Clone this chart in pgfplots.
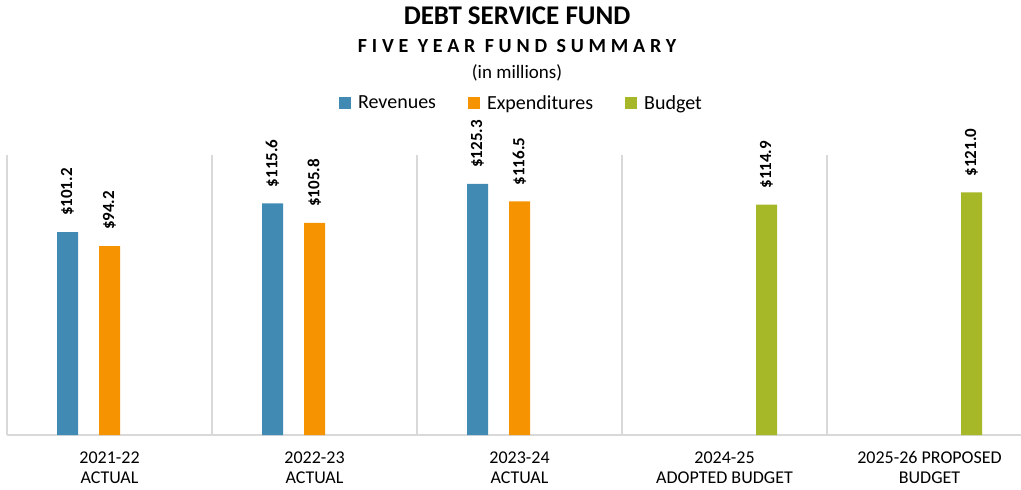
\documentclass[border=0pt]{standalone}
\usepackage{pgfplots}
\pgfplotsset{compat=1.18}
\usepackage{fontspec}
\setmainfont{Carlito}
\definecolor{rev}{HTML}{418AB3}
\definecolor{expc}{HTML}{F59300}
\definecolor{bud}{HTML}{A6B727}
\definecolor{sep}{HTML}{D9D9D9}
\begin{document}
\begin{tikzpicture}
\begin{axis}[
  name=ax,
  scale only axis,
  width=1014pt, height=280pt,
  xmin=-0.5, xmax=4.4463,
  ymin=0, ymax=139.7,
  axis x line*=bottom,
  axis y line=none,
  x axis line style={-, draw=sep, line width=1.5pt},
  xtick={0,1,2,3,4},
  xticklabels={{2021-22\\ACTUAL},{2022-23\\ACTUAL},{2023-24\\ACTUAL},{2024-25\\ADOPTED BUDGET},{2025-26 PROPOSED\\BUDGET}},
  xticklabel style={align=center, font=\fontsize{18}{20}\selectfont, yshift=-13pt},
  major tick length=0pt,
  minor xtick={-0.5,0.5,1.5,2.5,3.5},
  minor tick length=0pt,
  xminorgrids,
  minor grid style={draw=sep, line width=1.2pt},
  ybar=0pt,
  bar width=21pt,
  /pgf/number format/assume math mode=true,
  nodes near coords={{\bfseries\fontsize{17}{18}\selectfont\$\pgfmathprintnumber[fixed,fixed zerofill,precision=1]{\pgfplotspointmeta}}},
  every node near coord/.append style={yshift=16pt, rotate=90, anchor=west, inner sep=0pt, text=black},
  legend columns=3,
  legend style={draw=none, at={(rel axis cs:0.5074,1)}, anchor=center, yshift=52pt,
    font=\fontsize{20}{22}\selectfont,
    /tikz/every odd column/.append style={column sep=5pt},
    /tikz/every even column/.append style={column sep=30pt}},
  legend image code/.code={\fill[#1] (0pt,-6pt) rectangle (12pt,6pt);},
  clip=false,
]
\addplot[fill=rev, draw=none, bar shift=-42pt] coordinates {(0,101.2) (1,115.6) (2,125.3)};
\addlegendentry{Revenues}
\addplot[fill=expc, draw=none, bar shift=0pt] coordinates {(0,94.2) (1,105.8) (2,116.5)};
\addlegendentry{Expenditures}
\addplot[fill=bud, draw=none, bar shift=42pt] coordinates {(3,114.9) (4,121.0)};
\addlegendentry{Budget}
\coordinate (bl) at (rel axis cs:0,0);
\coordinate (tr) at (rel axis cs:1,1);
\coordinate (tc) at (rel axis cs:0.503,1);
\end{axis}
\node[anchor=base, font=\bfseries\fontsize{27}{30}\selectfont] at ([yshift=130pt]tc) {DEBT SERVICE FUND};
\node[anchor=base, font=\bfseries\fontsize{20}{22}\selectfont\addfontfeature{LetterSpace=24}] at ([yshift=102pt]tc) {FIVE YEAR FUND SUMMARY};
\node[anchor=base, font=\fontsize{19}{21}\selectfont] at ([yshift=76pt]tc) {(in millions)};
\pgfresetboundingbox
\path ([xshift=-7pt,yshift=-55pt]bl) rectangle ([yshift=155pt]tr);
\end{tikzpicture}
\end{document}
